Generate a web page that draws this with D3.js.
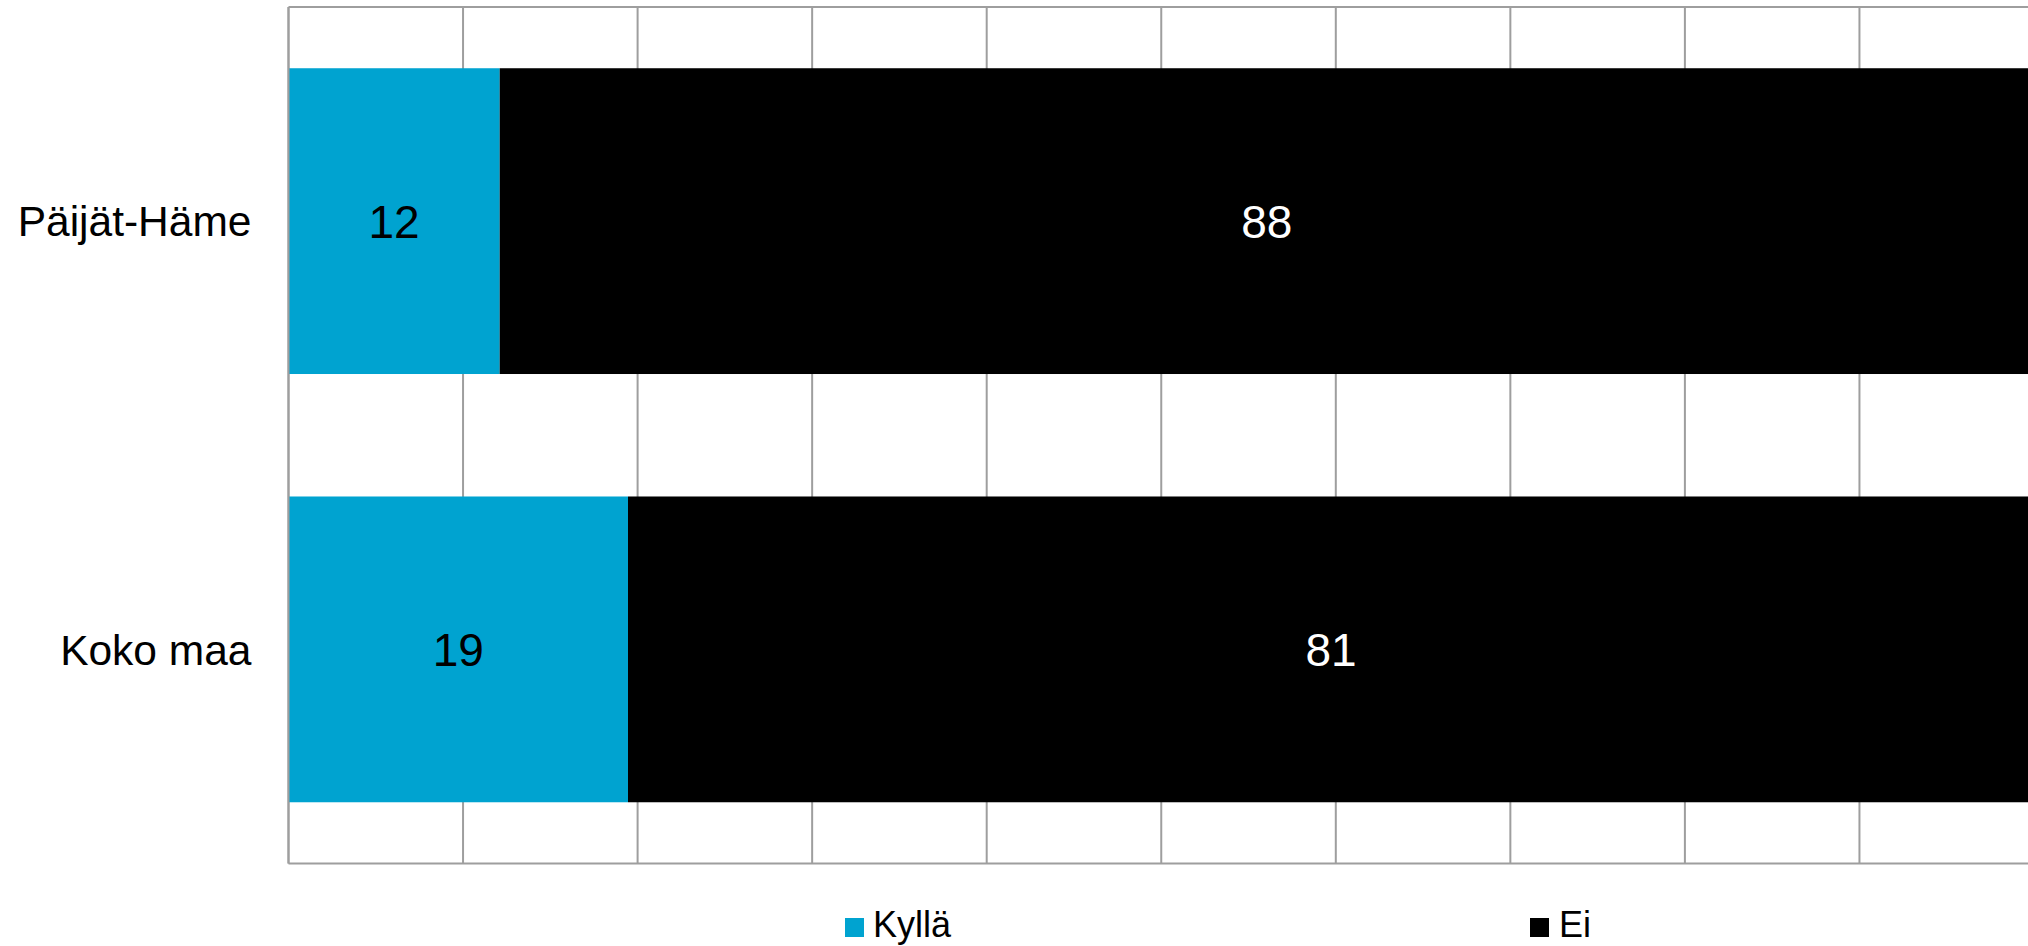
<!DOCTYPE html>
<html>
<head>
<meta charset="utf-8">
<script src="https://cdn.jsdelivr.net/npm/d3@7"></script>
<style>
html,body{margin:0;padding:0;background:#fff;overflow:hidden;}
svg{display:block;font-family:"Liberation Sans",Arial,sans-serif;}
</style>
</head>
<body>
<svg id="chart" width="2028" height="946"></svg>
<script>
const categories = ["Päijät-Häme", "Koko maa"];
const seriesNames = ["Kyllä", "Ei"];
const kylla = [12.1, 19.45];
const ei = [87.9, 80.55];
const xTicks = [0,10,20,30,40,50,60,70,80,90,100];
const colors = ["#00a3d0", "#000000"];

(function(){
const svg = d3.select("#chart");
const pLeft = 288.5, pRight = 2034, pTop = 7, pBottom = 863.5;

const x = d3.scaleLinear().domain([0,100]).range([pLeft, pRight]);
const y = d3.scaleBand().domain(categories).range([pTop, pBottom])
  .paddingInner(0.286).paddingOuter(0.143);

const gridColor = "#9e9e9e";
svg.append("g").selectAll("line").data(xTicks).join("line")
  .attr("x1", d => x(d)).attr("x2", d => x(d))
  .attr("y1", pTop).attr("y2", pBottom)
  .attr("stroke", gridColor).attr("stroke-width", 2);
svg.append("line").attr("x1", pLeft).attr("x2", pRight).attr("y1", pTop).attr("y2", pTop)
  .attr("stroke", gridColor).attr("stroke-width", 2);
svg.append("line").attr("x1", pLeft).attr("x2", pRight).attr("y1", pBottom).attr("y2", pBottom)
  .attr("stroke", gridColor).attr("stroke-width", 2);

const stackData = categories.map((c,i) => ({cat:c, "Kyllä":kylla[i], "Ei":ei[i]}));
const stack = d3.stack().keys(seriesNames)(stackData);

const layers = svg.append("g").selectAll("g").data(stack).join("g")
  .attr("fill", (d,i) => colors[i]);
layers.selectAll("rect").data(d => d).join("rect")
  .attr("x", d => x(d[0]))
  .attr("width", d => x(d[1]) - x(d[0]))
  .attr("y", d => y(d.data.cat))
  .attr("height", y.bandwidth());

stack.forEach((layer, si) => {
  svg.append("g").selectAll("text").data(layer).join("text")
    .attr("x", d => (x(d[0]) + x(d[1])) / 2)
    .attr("y", d => y(d.data.cat) + y.bandwidth()/2)
    .attr("dy", "0.36em")
    .attr("text-anchor", "middle")
    .attr("font-size", 46)
    .attr("fill", si === 0 ? "#000" : "#fff")
    .text(d => Math.round(d[1] - d[0]));
});

svg.append("line").attr("x1", pLeft).attr("x2", pLeft).attr("y1", pTop).attr("y2", pBottom)
  .attr("stroke", gridColor).attr("stroke-width", 2);

svg.append("g").selectAll("text").data(categories).join("text")
  .attr("x", pLeft - 37)
  .attr("y", d => y(d) + y.bandwidth()/2)
  .attr("dy", "0.36em")
  .attr("text-anchor", "end")
  .attr("font-size", 42.5)
  .attr("fill", "#000")
  .text(d => d);

const legendX = [845, 1530];
const lg = svg.append("g").selectAll("g").data(seriesNames).join("g")
  .attr("transform", (d,i) => `translate(${legendX[i]},918)`);
lg.append("rect").attr("width", 19).attr("height", 19).attr("fill", (d,i) => colors[i]);
lg.append("text").attr("x", (d,i) => i === 0 ? 28 : 29).attr("y", 19)
  .attr("font-size", 36).attr("fill", "#000").text(d => d);
})();
</script>
</body>
</html>
